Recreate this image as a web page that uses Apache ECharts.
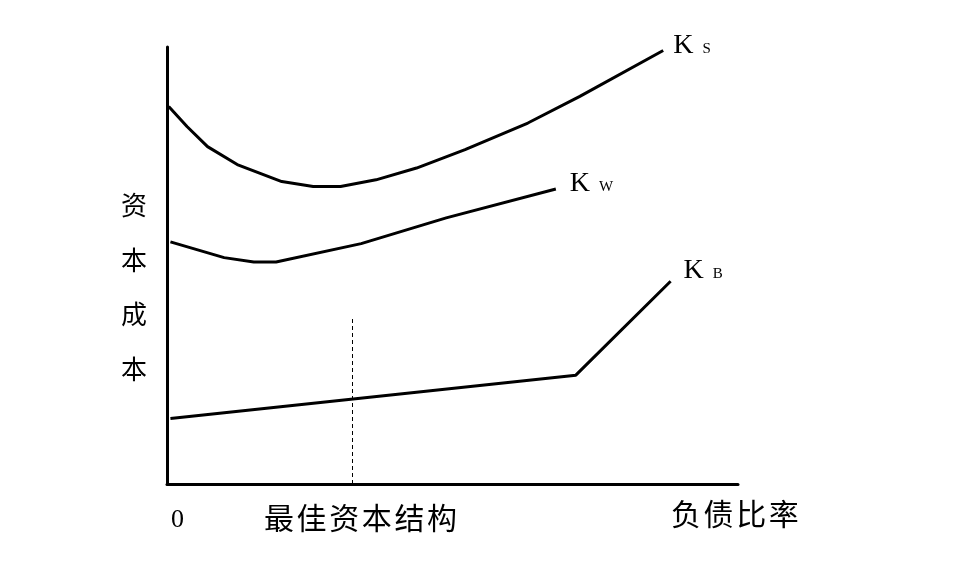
<!DOCTYPE html>
<html>
<head>
<meta charset="utf-8">
<script src="https://cdn.jsdelivr.net/npm/echarts@6/dist/echarts.min.js"></script>
<style>html,body{margin:0;padding:0;background:#fff}#c{width:956px;height:575px}</style>
</head>
<body>
<div id="c"></div>
<script>
// Debt ratio (x, 0-100) vs cost of capital (y, 0-100)
const ksData = [[0.3,86.4],[3.5,81.8],[7.1,77.2],[12.3,73.1],[20.1,69.2],[25.6,68.1],[30.4,68.1],[36.6,69.6],[43.7,72.3],[52.2,76.5],[63.2,82.6],[72.3,88.7],[86.9,99.2]];
const kwData = [[0.6,55.4],[10.0,51.8],[15.2,50.8],[19.1,50.8],[34.0,55.0],[48.9,60.9],[68.1,67.5]];
const kbData = [[0.6,15.0],[71.6,24.9],[88.2,46.4]];
const optimalX = 32.4;
const optimalTop = 38.4;
const seriesNames = ['S','W','B'];
const yAxisTitle = ['资','本','成','本'];
const xZeroLabel = '0';
const optimalLabel = '最佳资本结构';
const xAxisTitle = '负债比率';

const serif = '"Liberation Serif","DejaVu Serif",serif';
const cjk = '"Noto Sans CJK SC","Noto Sans CJK JP",sans-serif';

function endLbl(sub, dx, dy) {
  return {
    show: true,
    formatter: '{k|K}{s|' + sub + '}',
    offset: [dx, dy],
    distance: 5,
    rich: {
      k: {fontSize: 28, fontFamily: serif, color: '#000', verticalAlign: 'bottom', lineHeight: 30},
      s: {fontSize: 15, fontFamily: serif, color: '#000', verticalAlign: 'bottom', lineHeight: 30, padding: [0,0,3,9]}
    }
  };
}
function lineSeries(data, sub, dx, dy) {
  return {
    type: 'line', data: data, symbol: 'none', smooth: false,
    lineStyle: {color: '#000', width: 3},
    endLabel: endLbl(sub, dx, dy),
    silent: true, animation: false
  };
}
function spaced(str) {
  return str.split('').map(function (c) { return '{c|' + c + '}'; }).join('');
}
const spacedRich = {c: {fontSize: 30, fontFamily: cjk, color: '#000', padding: [0, 2.6, 0, 0]}};

const chart = echarts.init(document.getElementById('c'));
const kb = lineSeries(kbData, seriesNames[2], 8, -12);
kb.markLine = {
  silent: true, symbol: ['none','none'], animation: false,
  label: {show: false},
  lineStyle: {type: [4,3], width: 1, color: '#000'},
  data: [[{coord: [optimalX, 0]}, {coord: [optimalX, optimalTop]}]]
};
chart.setOption({
  animation: false,
  backgroundColor: '#fff',
  grid: {left: 167, top: 47, right: 218, bottom: 91},
  xAxis: {type: 'value', min: 0, max: 100,
    axisLine: {show: true, onZero: false, lineStyle: {color: '#000', width: 3}},
    axisTick: {show: false}, axisLabel: {show: false}, splitLine: {show: false}},
  yAxis: {type: 'value', min: 0, max: 100,
    axisLine: {show: true, onZero: false, lineStyle: {color: '#000', width: 3}},
    axisTick: {show: false}, axisLabel: {show: false}, splitLine: {show: false}},
  series: [
    lineSeries(ksData, seriesNames[0], 5, -6),
    lineSeries(kwData, seriesNames[1], 9, -6),
    kb
  ],
  graphic: [
    {type: 'text', left: 121, top: 178, style: {text: yAxisTitle.join('\n'), font: '26px ' + cjk, lineHeight: 54.5, fill: '#000'}},
    {type: 'text', left: 171, top: 507, style: {text: xZeroLabel, font: '26px ' + serif, fill: '#000'}},
    {type: 'text', left: 264, top: 503, style: {text: spaced(optimalLabel), rich: spacedRich}},
    {type: 'text', left: 671, top: 499, style: {text: spaced(xAxisTitle), rich: spacedRich}}
  ]
});
</script>
</body>
</html>
